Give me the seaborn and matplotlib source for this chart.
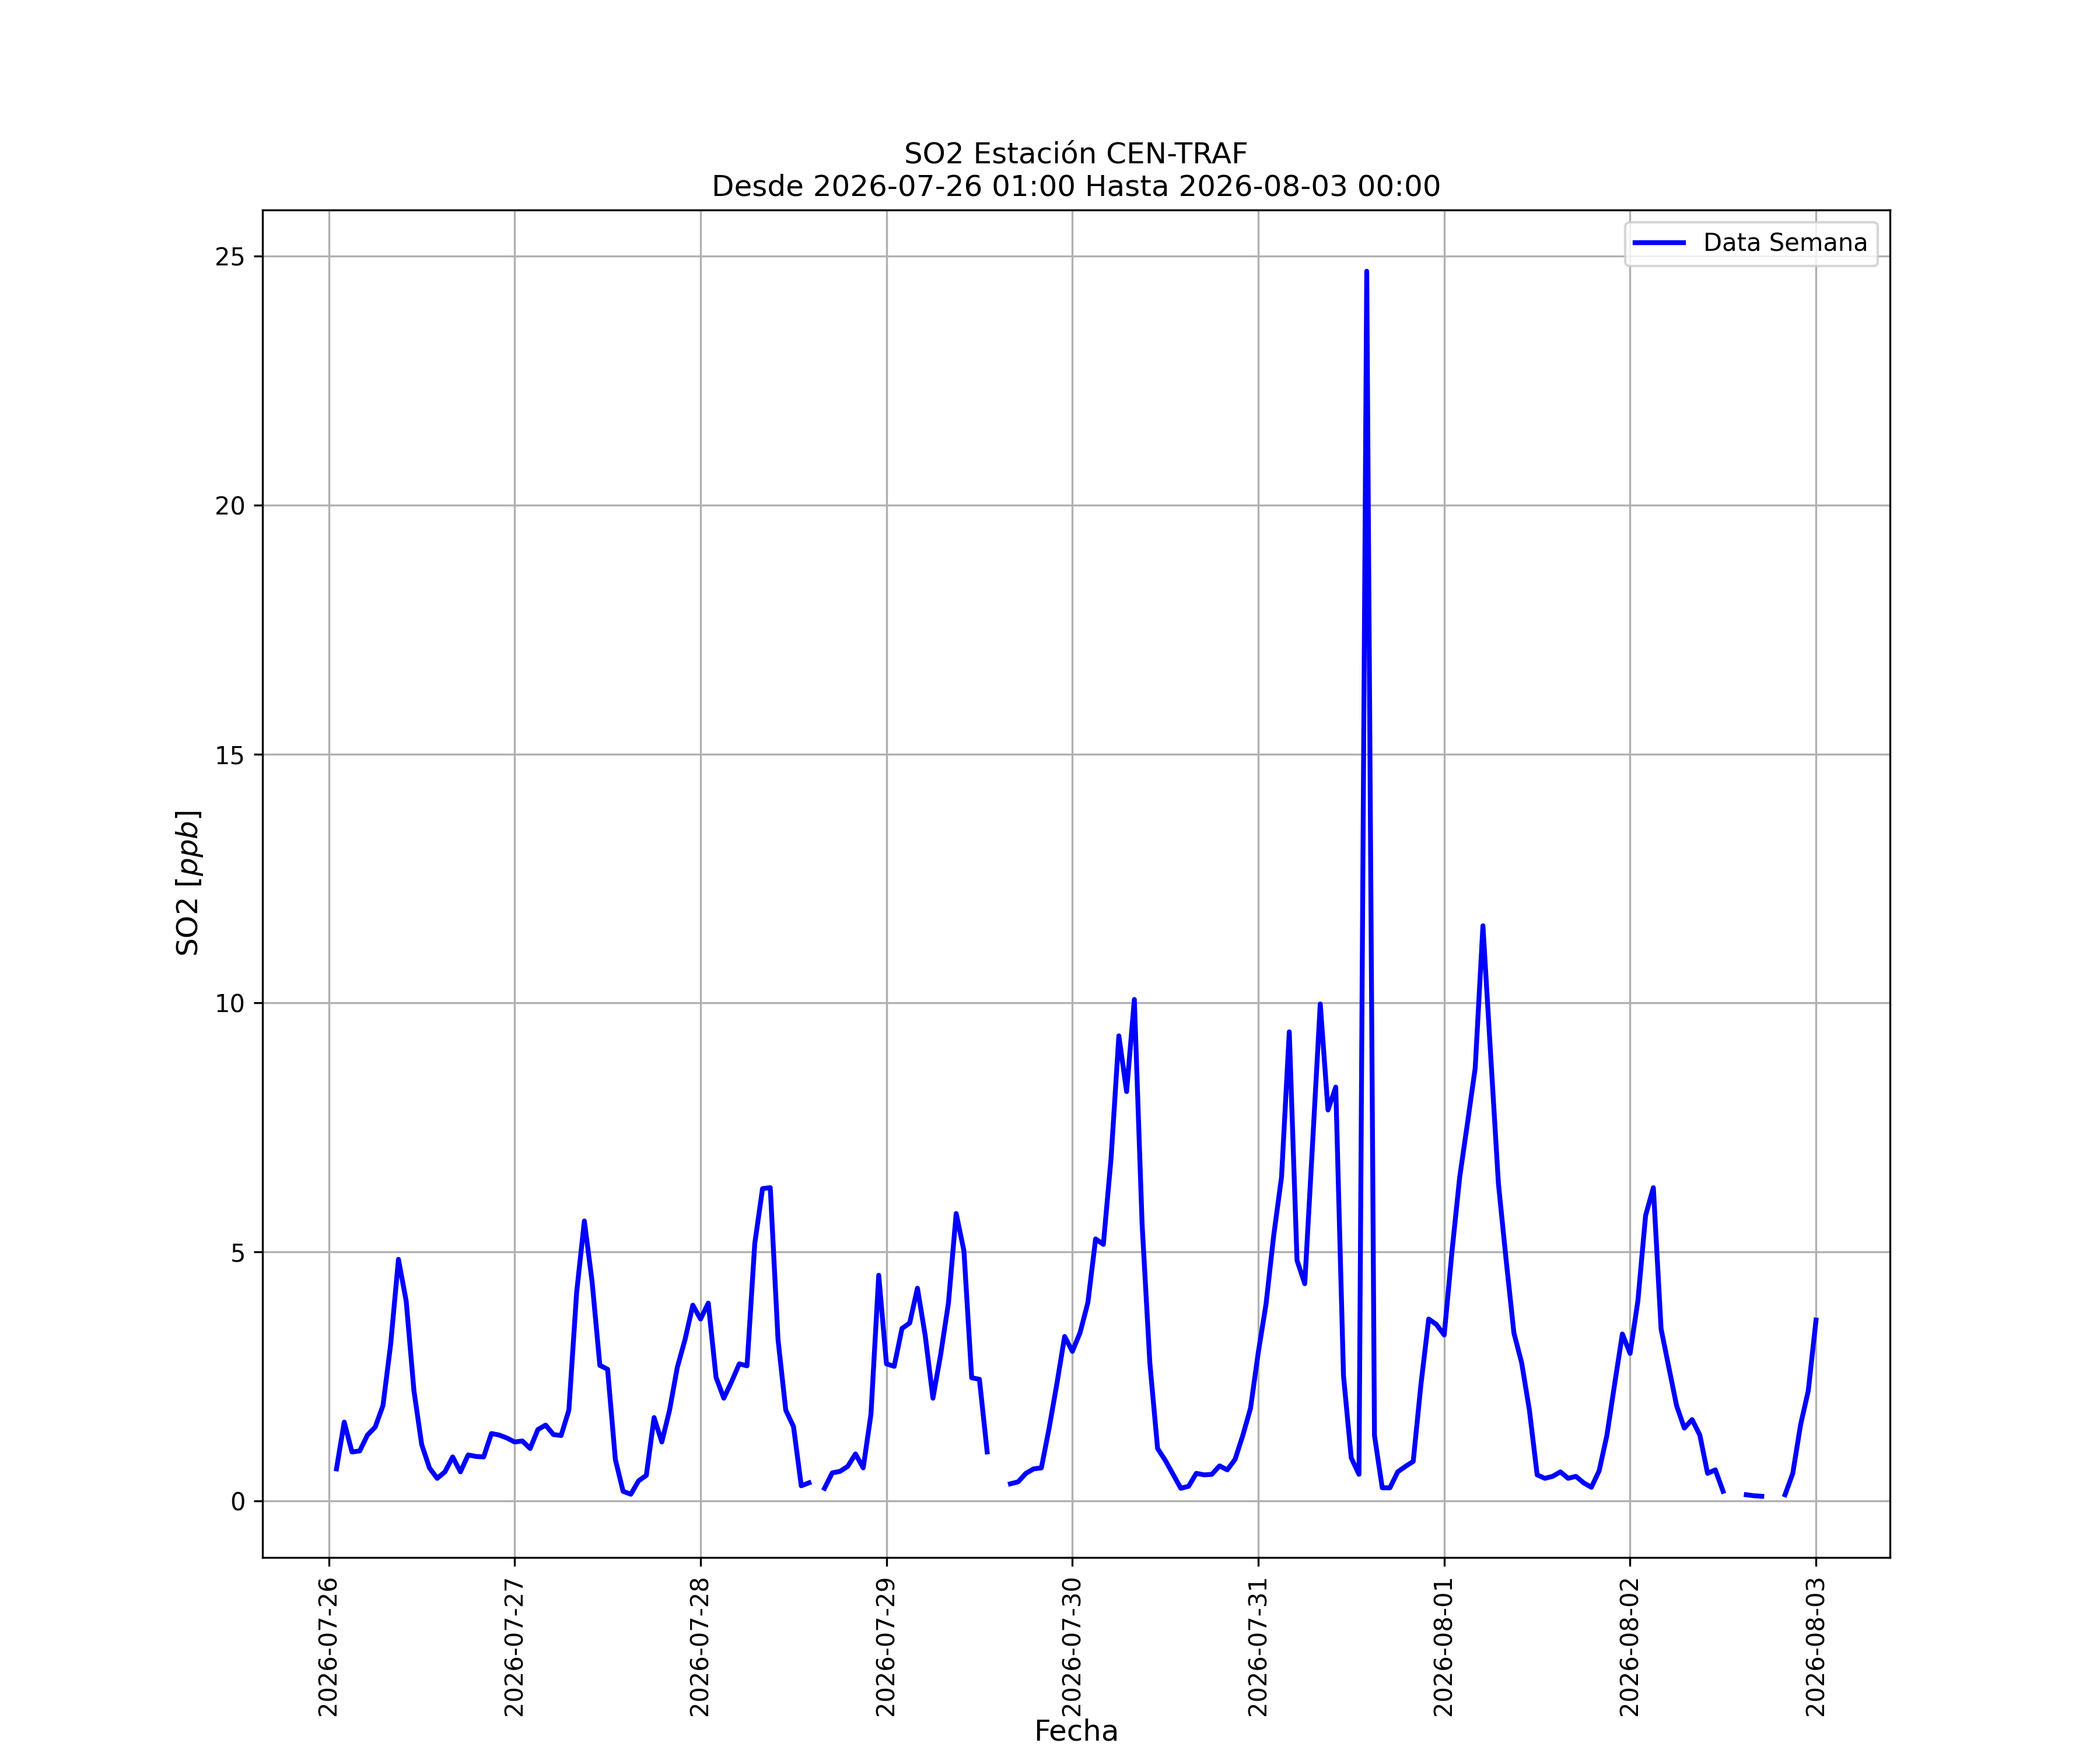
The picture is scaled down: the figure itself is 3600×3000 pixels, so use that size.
import numpy as np
import pandas as pd
import seaborn as sns
import matplotlib
matplotlib.use("Agg")
import matplotlib.pyplot as plt
import matplotlib.dates as mdates

nan = np.nan

# Hourly window of the station
fecha_inicio = "2026-07-26 01:00"
fecha_fin = "2026-08-03 00:00"
estacion = "CEN-TRAF"

# SO2 [ppb], one list per day (NaN = no data)
so2_0726 = [0.64, 1.58, 0.98, 1.00, 1.32, 1.48, 1.91, 3.15, 4.85, 4.01, 2.21, 1.13,
            0.66, 0.45, 0.58, 0.88, 0.58, 0.92, 0.89, 0.88, 1.35, 1.32, 1.26]
so2_0727 = [1.18, 1.20, 1.05, 1.43, 1.52, 1.33, 1.31, 1.82, 4.18, 5.62, 4.40, 2.72,
            2.64, 0.83, 0.19, 0.13, 0.40, 0.51, 1.67, 1.18, 1.82, 2.68, 3.24, 3.93]
so2_0728 = [3.65, 3.97, 2.48, 2.06, 2.39, 2.75, 2.71, 5.17, 6.27, 6.29, 3.24, 1.82,
            1.49, 0.30, 0.36, nan, 0.25, 0.56, 0.59, 0.69, 0.94, 0.66, 1.74, 4.53]
so2_0729 = [2.75, 2.70, 3.46, 3.57, 4.27, 3.32, 2.06, 2.94, 3.97, 5.77, 5.02, 2.47,
            2.44, 0.98, nan, nan, 0.34, 0.38, 0.55, 0.64, 0.66, 1.46, 2.35, 3.30]
so2_0730 = [3.00, 3.38, 3.98, 5.26, 5.15, 6.89, 9.34, 8.22, 10.07, 5.56, 2.77, 1.05,
            0.81, 0.53, 0.25, 0.29, 0.55, 0.52, 0.53, 0.70, 0.62, 0.83, 1.31, 1.86]
so2_0731 = [2.98, 3.95, 5.34, 6.50, 9.42, 4.83, 4.36, 7.15, 9.98, 7.85, 8.31, 2.51,
            0.86, 0.53, 24.70, 1.31, 0.26, 0.26, 0.58, 0.69, 0.79, 2.34, 3.65, 3.54]
so2_0801 = [3.33, 5.00, 6.50, 7.58, 8.69, 11.55, 8.95, 6.37, 4.83, 3.37, 2.77, 1.82,
            0.52, 0.45, 0.49, 0.58, 0.45, 0.49, 0.36, 0.27, 0.60, 1.31, 2.34, 3.35]
so2_0802 = [2.96, 4.01, 5.73, 6.29, 3.45, 2.68, 1.91, 1.46, 1.63, 1.32, 0.55, 0.62,
            0.19, nan, nan, 0.12, 0.10, 0.09, nan, nan, 0.12, 0.55, 1.52, 2.21]
so2_0803 = [3.63]

valores = (so2_0726 + so2_0727 + so2_0728 + so2_0729 + so2_0730
           + so2_0731 + so2_0801 + so2_0802 + so2_0803)

df = pd.DataFrame({
    "fecha": pd.date_range(fecha_inicio, fecha_fin, freq="h"),
    "so2": valores,
})
# split in segments so the gaps stay open
df["tramo"] = df["so2"].isna().cumsum()
df = df.dropna()

fig, ax = plt.subplots(figsize=(12, 10))

sns.lineplot(data=df, x="fecha", y="so2", units="tramo", estimator=None,
             color="blue", linewidth=2, label="Data Semana", ax=ax)

ax.set_title("SO2 Estación " + estacion + "\nDesde " + fecha_inicio
             + " Hasta " + fecha_fin, fontsize=12)
ax.set_xlabel("Fecha", fontsize=12, labelpad=1)
ax.set_ylabel("SO2 [$ppb$]", fontsize=12)

ax.xaxis.set_major_locator(mdates.DayLocator())
ax.xaxis.set_major_formatter(mdates.DateFormatter("%Y-%m-%d"))
plt.setp(ax.get_xticklabels(), rotation=90)
ax.grid(True)

handles, labels = ax.get_legend_handles_labels()
ax.legend(handles[:1], labels[:1], loc="upper right")

fig.savefig("out.png", dpi=300)
